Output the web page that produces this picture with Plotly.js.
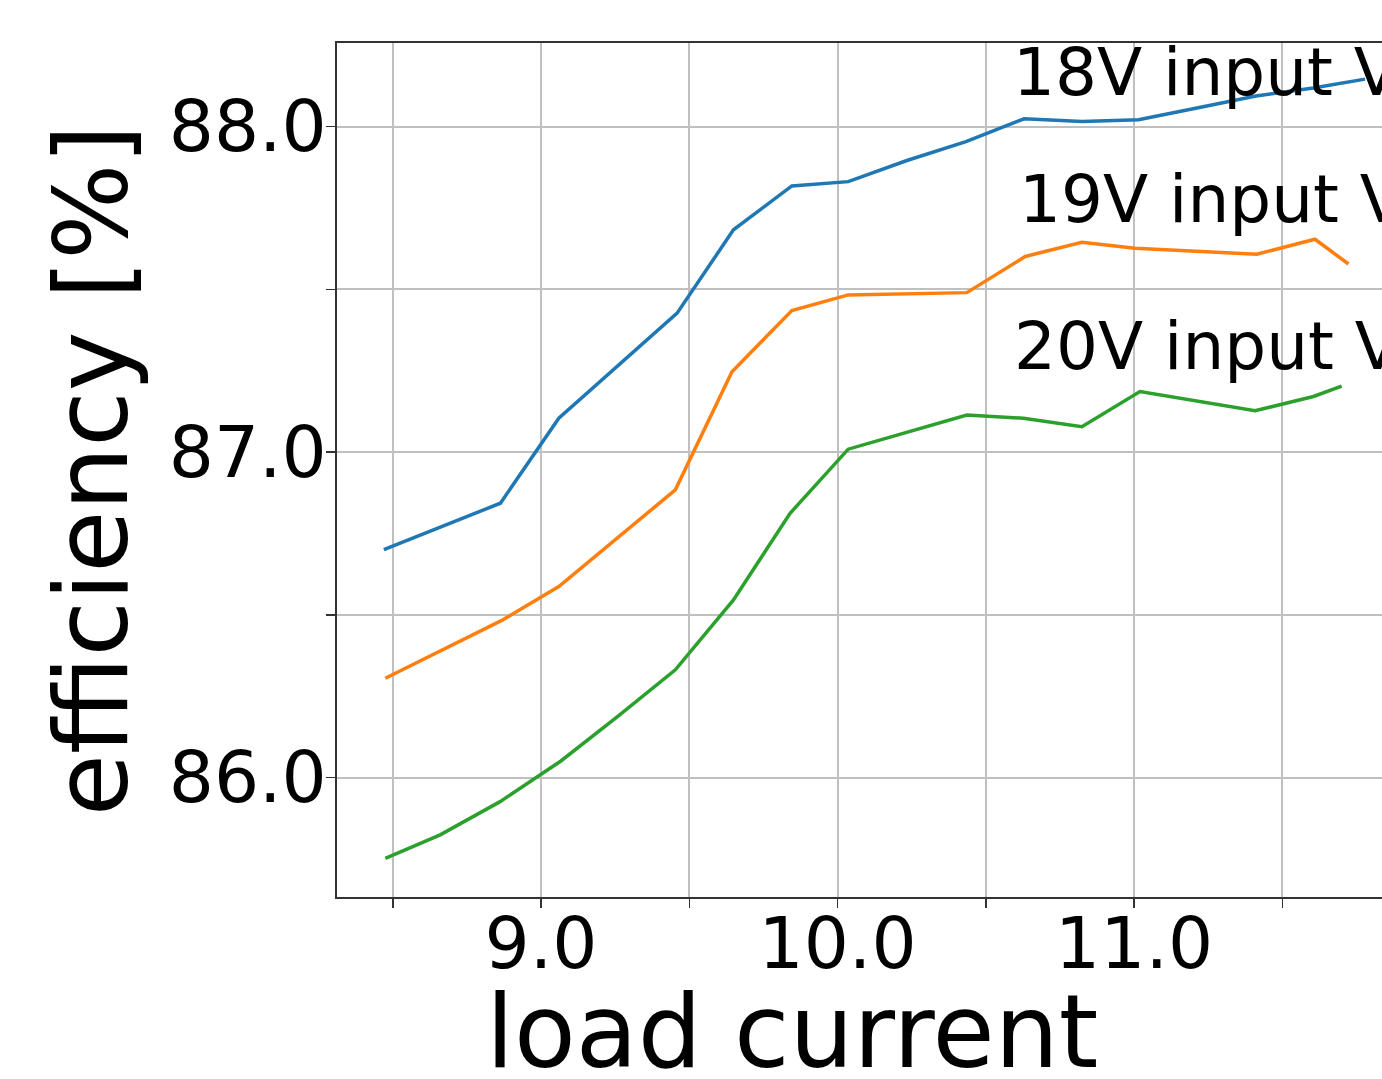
<!DOCTYPE html>
<html>
<head>
<meta charset="utf-8">
<script src="https://cdn.plot.ly/plotly-3.0.1.min.js"></script>
<style>
  html, body { margin: 0; padding: 0; overflow: hidden; background: #fff; }
  #chart { width: 1600px; height: 1079px; }
</style>
</head>
<body>
<div id="chart"></div>
<script>
// ---- data ----
const x18 = [8.470, 8.669, 8.863, 9.060, 9.256, 9.459, 9.649, 9.846, 10.036, 10.234, 10.433, 10.629, 10.825, 11.015, 11.212, 11.411, 11.604, 11.779];
const y18 = [86.700, 86.772, 86.843, 87.104, 87.263, 87.427, 87.683, 87.818, 87.831, 87.896, 87.954, 88.024, 88.016, 88.021, 88.057, 88.094, 88.119, 88.146];

const x19 = [8.475, 8.670, 8.866, 9.060, 9.256, 9.453, 9.644, 9.846, 10.036, 10.234, 10.436, 10.633, 10.824, 11.003, 11.209, 11.414, 11.610, 11.723];
const y19 = [86.305, 86.392, 86.482, 86.587, 86.735, 86.884, 87.247, 87.435, 87.483, 87.486, 87.490, 87.601, 87.645, 87.626, 87.617, 87.608, 87.654, 87.578];

const x20 = [8.475, 8.660, 8.862, 9.067, 9.260, 9.453, 9.649, 9.840, 10.036, 10.234, 10.436, 10.627, 10.824, 11.020, 11.212, 11.408, 11.605, 11.700];
const y20 = [85.752, 85.824, 85.926, 86.051, 86.189, 86.331, 86.546, 86.812, 87.009, 87.062, 87.114, 87.104, 87.078, 87.186, 87.156, 87.127, 87.171, 87.203];

const seriesNames = ['18V input Voltage', '19V input Voltage', '20V input Voltage'];
const seriesColors = ['#1f77b4', '#ff7f0e', '#2ca02c'];

const xTickVals = [8.5, 9.0, 9.5, 10.0, 10.5, 11.0, 11.5];
const xTickText = ['', '9.0', '', '10.0', '', '11.0', ''];
const yTickVals = [86.0, 86.5, 87.0, 87.5, 88.0];
const yTickText = ['86.0', '', '87.0', '', '88.0'];

const xTitle = 'load current';
const yTitle = 'efficiency [%]';

// label placement (data coords)
const labelX = [10.584, 10.604, 10.589];
const labelY = [88.1665, 87.775, 87.324];

// ---- chart ----
const font = 'DejaVu Sans, sans-serif';
const xs = [x18, x19, x20], ys = [y18, y19, y20];
const traces = xs.map((xv, i) => ({
  x: xv, y: ys[i], type: 'scatter', mode: 'lines', name: seriesNames[i],
  line: { color: seriesColors[i], width: 3.5 }, hoverinfo: 'skip'
}));

const annotations = seriesNames.map((n, i) => ({
  x: labelX[i], y: labelY[i], xref: 'x', yref: 'y', text: n,
  showarrow: false, xanchor: 'left', yanchor: 'middle',
  font: { family: font, size: 66, color: '#000' }
}));
annotations.push({
  x: 9.845, y: -0.158, xref: 'x', yref: 'paper', text: xTitle, showarrow: false,
  xanchor: 'center', yanchor: 'middle', font: { family: font, size: 101, color: '#000' }
});
annotations.push({
  x: -0.2105, y: 0.5, xref: 'paper', yref: 'paper', text: yTitle, showarrow: false,
  textangle: -90, xanchor: 'center', yanchor: 'middle', font: { family: font, size: 101, color: '#000' }
});

const axisCommon = {
  showgrid: true, gridcolor: '#c0c0c0', gridwidth: 2,
  showline: true, linecolor: '#333', linewidth: 2, mirror: true,
  ticks: 'outside', ticklen: 9, tickwidth: 1.5, tickcolor: '#333',
  zeroline: false, tickmode: 'array',
  tickfont: { family: font, size: 71, color: '#000' }
};

const layout = {
  width: 1600, height: 1079,
  margin: { l: 337, r: 100, t: 43, b: 182 },
  paper_bgcolor: '#fff', plot_bgcolor: '#fff',
  showlegend: false,
  xaxis: Object.assign({}, axisCommon, {
    range: [8.312, 12.234], tickvals: xTickVals, ticktext: xTickText,
    ticklabelstandoff: -25
  }),
  yaxis: Object.assign({}, axisCommon, {
    range: [85.633, 88.257], tickvals: yTickVals, ticktext: yTickText,
    ticklabelstandoff: -15
  }),
  annotations: annotations
};

Plotly.newPlot('chart', traces, layout, { staticPlot: true, displayModeBar: false });
</script>
</body>
</html>
